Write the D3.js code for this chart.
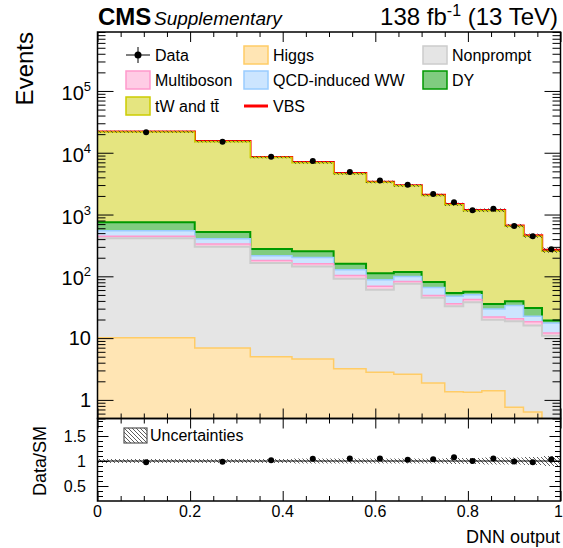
<!DOCTYPE html>
<html>
<head>
<meta charset="utf-8">
<script src="https://cdn.jsdelivr.net/npm/d3@7"></script>
<style>
  body { margin: 0; background: #fff; }
  text { font-family: "Liberation Sans", Arial, sans-serif; fill: #000; }
</style>
</head>
<body>
<div id="chart"></div>
<script>
// bin edges of the DNN output
var edges = [0, 0.21, 0.33, 0.42, 0.51, 0.58, 0.64, 0.70, 0.75, 0.79, 0.83, 0.88, 0.92, 0.96, 1.0];

// process yields per bin
var higgs      = [10.1, 6.9, 5.0, 4.6, 3.2, 2.8, 2.6, 1.88, 1.36, 1.33, 1.41, 0.76, 0.64, 0.46];
var nonprompt  = [405, 293, 160, 140, 88, 58, 73, 43, 31.3, 36.7, 18.5, 17.9, 15.3, 10.5];
var multiboson = [29, 34, 15, 15, 12, 8, 7, 4, 3.3, 4, 2.1, 2, 2.4, 1.1];
var qcdww      = [104, 73, 36, 43, 25, 19.5, 17, 17, 11.5, 8.5, 7.7, 12.9, 4.2, 5.5];
var dy         = [200, 116, 61, 51, 31, 23.5, 18, 15, 6.5, 6, 6.1, 5.8, 8.3, 1.8];
var ttbar      = [20850, 14580, 8100, 6650, 4420, 3220, 2800, 1960, 1390, 1095, 1120, 605, 413, 235];
var vbs        = [300, 200, 110, 90, 60, 45, 40, 30, 22, 20, 22, 15, 12, 12];
var data       = [21400, 15070, 8600, 7320, 4860, 3550, 3030, 2140, 1575, 1170, 1235, 652, 444, 275];
// relative uncertainty of the SM prediction
var uncert     = [0.04, 0.04, 0.04, 0.05, 0.05, 0.05, 0.05, 0.05, 0.06, 0.06, 0.07, 0.07, 0.08, 0.1];

// axis ticks
var xMajor = [0, 0.2, 0.4, 0.6, 0.8, 1];
var xLabels = ["0", "0.2", "0.4", "0.6", "0.8", "1"];
var yMajor = [1, 10, 1e2, 1e3, 1e4, 1e5];
var yLabels = [["1", ""], ["10", ""], ["10", "2"], ["10", "3"], ["10", "4"], ["10", "5"]];
var rMajor = [0.5, 1, 1.5];
var rLabels = ["0.5", "1", "1.5"];

var width = 563, height = 548;
var xLeft = 97.5, xRight = 560.5, yTop = 32, yMid = 418.5, yBottom = 501;

var svg = d3.select("#chart").append("svg")
    .attr("width", width)
    .attr("height", height);

var x = d3.scaleLinear().domain([0, 1]).range([xLeft, xRight]);
var y = d3.scaleLog().domain([0.5, 9e5]).range([yMid, yTop]);
var yr = d3.scaleLinear().domain([0.2, 1.85]).range([yBottom, yMid]);

var defs = svg.append("defs");
defs.append("clipPath").attr("id", "clipMain")
  .append("rect").attr("x", xLeft).attr("y", yTop)
  .attr("width", xRight - xLeft).attr("height", yMid - yTop);
defs.append("clipPath").attr("id", "clipRatio")
  .append("rect").attr("x", xLeft).attr("y", yMid)
  .attr("width", xRight - xLeft).attr("height", yBottom - yMid);
defs.append("pattern").attr("id", "hatch")
  .attr("patternUnits", "userSpaceOnUse")
  .attr("width", 4).attr("height", 4)
  .append("path")
  .attr("d", "M0,0 L4,4 M-1,3 L1,5 M3,-1 L5,1")
  .attr("stroke", "#333").attr("stroke-width", 0.8);

//stack of processes, bottom first
var layers = [
  { vals: higgs, fill: "#ffe5b4", line: "#ffcc66", w: 1.5 },
  { vals: nonprompt, fill: "#e5e5e5", line: "#cccccc", w: 2 },
  { vals: multiboson, fill: "#ffcce5", line: "#ff99cc", w: 1.5 },
  { vals: qcdww, fill: "#cce5ff", line: "#99ccff", w: 1.5 },
  { vals: dy, fill: "#80cc80", line: "#009900", w: 2 },
  { vals: ttbar, fill: "#e5e580", line: "#cccc00", w: 1.5 },
  { vals: vbs, fill: "none", line: "#ff0000", w: 2.5 }
];

var running = edges.slice(1).map(function() { return 0; });
layers.forEach(function(l) {
  l.cum = l.vals.map(function(v, i) { running[i] += v; return running[i]; });
});
var total = running.slice();

function steps(vals) {
  var pts = [];
  vals.forEach(function(v, i) {
    pts.push([edges[i], v]);
    pts.push([edges[i + 1], v]);
  });
  return pts;
}

var area = d3.area()
  .x(function(d) { return x(d[0]); })
  .y0(yMid)
  .y1(function(d) { return y(d[1]); });
var line = d3.line()
  .x(function(d) { return x(d[0]); })
  .y(function(d) { return y(d[1]); });

var main = svg.append("g").attr("clip-path", "url(#clipMain)");

layers.slice().reverse().forEach(function(l) {
  var pts = steps(l.cum);
  if (l.fill !== "none") {
    main.append("path").attr("d", area(pts)).attr("fill", l.fill);
  }
  main.append("path").attr("d", line(pts))
    .attr("fill", "none").attr("stroke", l.line).attr("stroke-width", l.w);
});

// uncertainty band on the total
main.selectAll("rect.unc").data(total).enter().append("rect")
  .attr("class", "unc")
  .attr("x", function(d, i) { return x(edges[i]); })
  .attr("width", function(d, i) { return x(edges[i + 1]) - x(edges[i]); })
  .attr("y", function(d, i) { return y(d * (1 + uncert[i])); })
  .attr("height", function(d, i) { return y(d * (1 - uncert[i])) - y(d * (1 + uncert[i])); })
  .attr("fill", "url(#hatch)");

// data points
function centre(i) { return x((edges[i] + edges[i + 1]) / 2); }
main.selectAll("line.err").data(data).enter().append("line")
  .attr("x1", function(d, i) { return centre(i); })
  .attr("x2", function(d, i) { return centre(i); })
  .attr("y1", function(d) { return y(d + Math.sqrt(d)); })
  .attr("y2", function(d) { return y(d - Math.sqrt(d)); })
  .attr("stroke", "#000").attr("stroke-width", 1);
main.selectAll("circle.pt").data(data).enter().append("circle")
  .attr("cx", function(d, i) { return centre(i); })
  .attr("cy", function(d) { return y(d); })
  .attr("r", 3).attr("fill", "#000");

// ratio panel
var ratio = svg.append("g").attr("clip-path", "url(#clipRatio)");
ratio.selectAll("rect.unc").data(uncert).enter().append("rect")
  .attr("x", function(d, i) { return x(edges[i]); })
  .attr("width", function(d, i) { return x(edges[i + 1]) - x(edges[i]); })
  .attr("y", function(d) { return yr(1 + d); })
  .attr("height", function(d) { return yr(1 - d) - yr(1 + d); })
  .attr("fill", "url(#hatch)");
ratio.append("line")
  .attr("x1", xLeft).attr("x2", xRight)
  .attr("y1", yr(1)).attr("y2", yr(1))
  .attr("stroke", "#000").attr("stroke-width", 1);
ratio.selectAll("line.err").data(data).enter().append("line")
  .attr("x1", function(d, i) { return centre(i); })
  .attr("x2", function(d, i) { return centre(i); })
  .attr("y1", function(d, i) { return yr((d + Math.sqrt(d)) / total[i]); })
  .attr("y2", function(d, i) { return yr((d - Math.sqrt(d)) / total[i]); })
  .attr("stroke", "#000").attr("stroke-width", 1);
ratio.selectAll("circle.pt").data(data).enter().append("circle")
  .attr("cx", function(d, i) { return centre(i); })
  .attr("cy", function(d, i) { return yr(d / total[i]); })
  .attr("r", 3).attr("fill", "#000");

//ticks on all sides
function ticks(axis, values, size, tx, ty) {
  svg.append("g")
    .attr("transform", "translate(" + tx + "," + ty + ")")
    .call(axis.tickValues(values).tickSize(size).tickFormat(""))
    .call(function(g) { g.select(".domain").remove(); })
    .selectAll("line").attr("stroke", "#000").attr("stroke-width", 1);
}

var xMinor = d3.range(0, 21).map(function(i) { return i * 0.05; })
  .filter(function(v) { return Math.abs(v * 5 - Math.round(v * 5)) > 1e-6; });
var yMinor = [];
[-1, 0, 1, 2, 3, 4, 5].forEach(function(p) {
  for (var k = 2; k <= 9; k++) {
    var v = k * Math.pow(10, p);
    if (v >= 0.5 && v <= 9e5) yMinor.push(v);
  }
});
var rMinor = [0.3, 0.4, 0.6, 0.7, 0.8, 0.9, 1.1, 1.2, 1.3, 1.4, 1.6, 1.7, 1.8];

[yTop, yMid].forEach(function(yy) {
  ticks(d3.axisTop(x), xMajor, -10, 0, yy);
  ticks(d3.axisTop(x), xMinor, -5, 0, yy);
});
[yMid, yBottom].forEach(function(yy) {
  ticks(d3.axisBottom(x), xMajor, -10, 0, yy);
  ticks(d3.axisBottom(x), xMinor, -5, 0, yy);
});
ticks(d3.axisLeft(y), yMajor, -16, xLeft, 0);
ticks(d3.axisLeft(y), yMinor, -8, xLeft, 0);
ticks(d3.axisRight(y), yMajor, -16, xRight, 0);
ticks(d3.axisRight(y), yMinor, -8, xRight, 0);
ticks(d3.axisLeft(yr), rMajor, -11, xLeft, 0);
ticks(d3.axisLeft(yr), rMinor, -5.5, xLeft, 0);
ticks(d3.axisRight(yr), rMajor, -11, xRight, 0);
ticks(d3.axisRight(yr), rMinor, -5.5, xRight, 0);

// frames
svg.append("rect").attr("x", xLeft).attr("y", yTop)
  .attr("width", xRight - xLeft).attr("height", yMid - yTop)
  .attr("fill", "none").attr("stroke", "#000").attr("stroke-width", 1.5);
svg.append("rect").attr("x", xLeft).attr("y", yMid)
  .attr("width", xRight - xLeft).attr("height", yBottom - yMid)
  .attr("fill", "none").attr("stroke", "#000").attr("stroke-width", 1.5);

//tick labels
yMajor.forEach(function(v, i) {
  var t = svg.append("text")
    .attr("x", 91).attr("y", y(v) + (yLabels[i][1] ? 9 : 7))
    .attr("text-anchor", "end").attr("font-size", 20);
  t.append("tspan").text(yLabels[i][0]);
  if (yLabels[i][1]) {
    t.append("tspan").attr("dy", -9).attr("font-size", 13).text(yLabels[i][1]);
  }
});
rMajor.forEach(function(v, i) {
  svg.append("text")
    .attr("x", 86).attr("y", yr(v) + 5.5)
    .attr("text-anchor", "end").attr("font-size", 16)
    .text(rLabels[i]);
});
xMajor.forEach(function(v, i) {
  svg.append("text")
    .attr("x", i === xMajor.length - 1 ? x(v) - 2 : x(v)).attr("y", 517)
    .attr("text-anchor", "middle").attr("font-size", 16)
    .text(xLabels[i]);
});

//axis titles
svg.append("text")
  .attr("x", 560).attr("y", 543)
  .attr("text-anchor", "end").attr("font-size", 18)
  .text("DNN output");
svg.append("text")
  .attr("transform", "translate(33," + yTop + ")rotate(-90)")
  .attr("text-anchor", "end").attr("font-size", 24)
  .text("Events");
svg.append("text")
  .attr("transform", "translate(46," + yr(1) + ")rotate(-90)")
  .attr("text-anchor", "middle").attr("font-size", 18)
  .text("Data/SM");

// header
svg.append("text").attr("x", 98).attr("y", 25)
  .attr("font-size", 24).attr("font-weight", "bold").text("CMS");
svg.append("text").attr("x", 154).attr("y", 25)
  .attr("font-size", 19).attr("font-style", "italic").text("Supplementary");
var lumi = svg.append("text").attr("x", 558).attr("y", 25)
  .attr("text-anchor", "end").attr("font-size", 24);
lumi.append("tspan").text("138 fb");
lumi.append("tspan").attr("dy", -9).attr("font-size", 16).text("-1");
lumi.append("tspan").attr("dy", 9).text(" (13 TeV)");

// legend
var legendRows = [55, 80, 106];
var legendCols = [126, 244, 423];
var legendItems = [
  { label: "Data", type: "data", col: 0, row: 0 },
  { label: "Higgs", type: "box", l: layers[0], col: 1, row: 0 },
  { label: "Nonprompt", type: "box", l: layers[1], col: 2, row: 0 },
  { label: "Multiboson", type: "box", l: layers[2], col: 0, row: 1 },
  { label: "QCD-induced WW", type: "box", l: layers[3], col: 1, row: 1 },
  { label: "DY", type: "box", l: layers[4], col: 2, row: 1 },
  { label: "tW and tt\u0304", type: "box", l: layers[5], col: 0, row: 2 },
  { label: "VBS", type: "line", l: layers[6], col: 1, row: 2 }
];
legendItems.forEach(function(it) {
  var lx = legendCols[it.col], ly = legendRows[it.row];
  if (it.type === "box") {
    svg.append("rect").attr("x", lx).attr("y", ly - 9)
      .attr("width", 24).attr("height", 18)
      .attr("fill", it.l.fill).attr("stroke", it.l.line).attr("stroke-width", 1.5);
  } else if (it.type === "line") {
    svg.append("line").attr("x1", lx).attr("x2", lx + 24)
      .attr("y1", ly).attr("y2", ly)
      .attr("stroke", it.l.line).attr("stroke-width", 3);
  } else {
    svg.append("line").attr("x1", lx).attr("x2", lx + 24)
      .attr("y1", ly).attr("y2", ly).attr("stroke", "#000");
    svg.append("line").attr("x1", lx + 12).attr("x2", lx + 12)
      .attr("y1", ly - 8).attr("y2", ly + 8).attr("stroke", "#000");
    svg.append("circle").attr("cx", lx + 12).attr("cy", ly).attr("r", 3.5);
  }
  svg.append("text").attr("x", lx + 29).attr("y", ly + 6)
    .attr("font-size", 16).text(it.label);
});

// ratio legend
svg.append("rect").attr("x", 124).attr("y", 428)
  .attr("width", 23).attr("height", 15)
  .attr("fill", "url(#hatch)").attr("stroke", "#555").attr("stroke-width", 1.2);
svg.append("text").attr("x", 150).attr("y", 441)
  .attr("font-size", 16).text("Uncertainties");
</script>
</body>
</html>
